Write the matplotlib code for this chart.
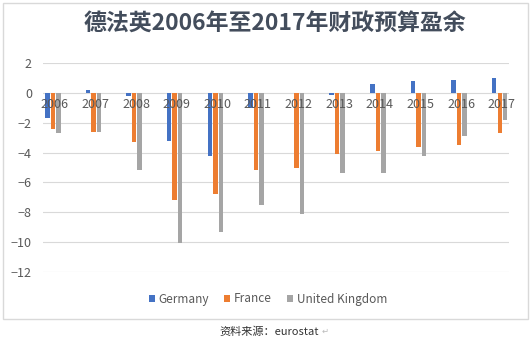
import numpy as np
import matplotlib.pyplot as plt
from matplotlib.patches import Rectangle

plt.rcParams['font.family'] = ['Noto Sans CJK SC', 'DejaVu Sans']

# budget balance, % of GDP
years = ['2006', '2007', '2008', '2009', '2010', '2011',
         '2012', '2013', '2014', '2015', '2016', '2017']
germany = [-1.7, 0.2, -0.2, -3.2, -4.2, -1.0, 0.0, -0.1, 0.6, 0.8, 0.9, 1.0]
france = [-2.4, -2.6, -3.3, -7.2, -6.8, -5.2, -5.0, -4.1, -3.9, -3.6, -3.5, -2.7]
uk = [-2.7, -2.6, -5.2, -10.1, -9.3, -7.5, -8.1, -5.4, -5.4, -4.2, -2.9, -1.8]

series = [('Germany', germany, '#4472C4'),
          ('France', france, '#ED7D31'),
          ('United Kingdom', uk, '#A5A5A5')]

W, H = 531, 340
fig = plt.figure(figsize=(W / 100, H / 100), dpi=100)
ax = fig.add_axes([43 / W, 1 - 271.7 / H, (509 - 43) / W, (271.7 - 63.3) / H])

x = np.arange(len(years))
bw = 0.11
offsets = [-0.135, 0.0, 0.135]
handles = []
for (name, vals, col), off in zip(series, offsets):
    b = ax.bar(x + off, vals, width=bw, color=col, label=name, zorder=3)
    handles.append(b)

ax.set_xlim(-0.241, 11.228)
ax.set_ylim(-12, 2)
ax.set_yticks(range(-12, 3, 2))
ax.grid(axis='y', color='#D9D9D9', linewidth=0.8, zorder=0)
for s in ax.spines.values():
    s.set_visible(False)
ax.tick_params(axis='y', length=0, pad=8, labelsize=9, labelcolor='#595959')
ax.set_xticks([])

# category labels sit just under the zero line
for i, yr in enumerate(years):
    ax.text(i + 0.05, -0.3, yr, ha='center', va='top', fontsize=9,
            color='#595959', zorder=5)

fig.text(274.5 / W, 1 - 24.5 / H, '德法英2006年至2017年财政预算盈余',
         ha='center', va='center', fontsize=16.5, fontweight='bold',
         color='#434D5C')

fig.legend(handles=handles, loc='center', bbox_to_anchor=(268 / W, 1 - 299 / H),
           ncol=3, frameon=False, fontsize=8.5, labelcolor='#595959',
           handlelength=0.5, handleheight=0.5, handletextpad=0.3,
           columnspacing=1.3)

# chart border
fig.patches.append(Rectangle((3 / W, 1 - 319 / H), 525 / W, 316 / H,
                             transform=fig.transFigure, fill=False,
                             edgecolor='#D9D9D9', linewidth=1))

fig.text(219 / W, 1 - 331.5 / H, '资料来源：eurostat', ha='left', va='center',
         fontsize=8, color='#333333')
fig.text(322 / W, 1 - 331.5 / H, '↵', ha='left', va='center',
         fontsize=6, color='#BBBBBB')

fig.savefig('out.png', dpi=100)
